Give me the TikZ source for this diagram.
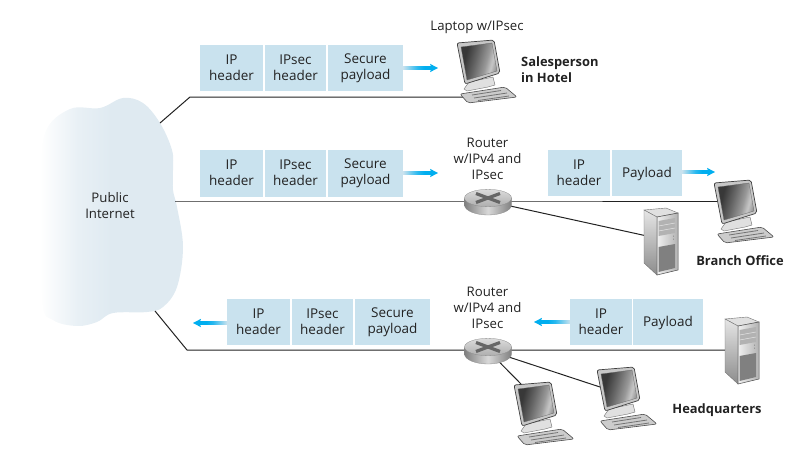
\documentclass[tikz,border=0pt]{standalone}
\usepackage{fontspec}
\setmainfont{Open Sans}
\usetikzlibrary{shapes.geometric}
\definecolor{boxblue}{HTML}{C9E2EE}
\definecolor{cloudblue}{HTML}{DFEAF1}
\definecolor{wire}{HTML}{222222}
\definecolor{flowcyan}{HTML}{00AEEF}
\definecolor{inkgrey}{HTML}{222222}
\pgfdeclarehorizontalshading{cloudfade}{100bp}{
  color(0bp)=(white);
  color(25bp)=(white);
  color(38bp)=(cloudblue!70!white);
  color(50bp)=(cloudblue);
  color(100bp)=(cloudblue)}
\pgfdeclarehorizontalshading{screenfade}{100bp}{
  color(0bp)=(black!78);
  color(30bp)=(black!78);
  color(45bp)=(black!60);
  color(60bp)=(black!40);
  color(68bp)=(black!22);
  color(75bp)=(black!40);
  color(100bp)=(black!45)}
\pgfdeclarehorizontalshading{flowfade}{100bp}{
  color(0bp)=(boxblue);
  color(25bp)=(boxblue);
  color(50bp)=(flowcyan!80!boxblue);
  color(62bp)=(flowcyan);
  color(100bp)=(flowcyan)}
\pgfdeclarehorizontalshading{flowfadeback}{100bp}{
  color(0bp)=(flowcyan);
  color(38bp)=(flowcyan);
  color(50bp)=(flowcyan!80!boxblue);
  color(75bp)=(boxblue);
  color(100bp)=(boxblue)}
\tikzset{
  hdr/.style={fill=boxblue,inner sep=0pt,align=center,text=inkgrey,font=\fontsize{13.5}{16}\selectfont,
    execute at begin node={\rule{0pt}{12pt}},execute at end node={\rule[-1.6pt]{0pt}{1.6pt}}},
  lbl/.style={inner sep=0pt,align=center,text=inkgrey,font=\fontsize{13.2}{16}\selectfont,
    execute at begin node={\rule{0pt}{12pt}},execute at end node={\rule[-1.6pt]{0pt}{1.6pt}}},
  boldlbl/.style={inner sep=0pt,align=left,text=inkgrey,font=\bfseries\fontsize{12.9}{16}\selectfont},
  wireline/.style={draw=wire,line width=1pt},
  % arrows starting at the pic origin, running along +x or -x for the given length
  pics/flowarrow/.style={code={
    \shade[shading=flowfade] (0,-1.7) rectangle ({#1-6},1.7);
    \fill[flowcyan] ({#1-8},-4.2)--(#1,0)--({#1-8},4.2)--({#1-6.5},0)--cycle;
  }},
  pics/flowarrowback/.style={code={
    \shade[shading=flowfadeback] ({6-#1},-1.7) rectangle (0,1.7);
    \fill[flowcyan] ({8-#1},-4.2)--(-#1,0)--({8-#1},4.2)--({6.5-#1},0)--cycle;
  }},
  pics/pcicon/.style={code={
    % keyboard
    \fill[draw=black!70,line width=.6pt,fill=black!20,rounded corners=2pt]
      (3,51)--(48,44)--(60,54)--(11,60)--cycle;
    \draw[black!55,line width=.8pt] (15,52)--(44,47.5) (17,55)--(50,50) (21,57.5)--(52,53);
    % stand
    \fill[draw=black!55,line width=.4pt,fill=black!12] (12,39)--(36,34)--(38,42)--(31,44)--(10,48)--(7,46)--cycle;
    % monitor case
    \fill[draw=black!75,line width=.7pt,fill=black!22,rounded corners=2pt]
      (0,0)--(37,-3)--(43,30)--(8,41)--cycle;
    % screen
    \shade[shading=screenfade,shading angle=-15,draw=black!60,line width=.3pt]
      (4,4)--(35,0)--(40,28)--(10,37)--cycle;
  }},
  pics/servericon/.style={code={
    \fill[draw=black!55,line width=.4pt,fill=black!12] (0,0)--(22,-2)--(34,3)--(13,7)--cycle;
    \shade[draw=black!55,line width=.4pt,top color=black!10,bottom color=black!45] (0,0)--(13,7)--(13,65)--(0,53)--cycle;
    \shade[draw=black!70,line width=.5pt,left color=black!6,right color=black!30] (13,7)--(34,3)--(34,60)--(13,65)--cycle;
    \fill[black!30] (14.5,11)--(31,8)--(31,23)--(14.5,26)--cycle;
    \draw[black!10,line width=.5pt] (14.5,16)--(31,13) (14.5,21)--(31,18);
    \fill[black!50] (14.5,37)--(31,34)--(31,58)--(14.5,62)--cycle;
    \fill[black!55] (29.5,26) circle (.5) (29.5,29) circle (.5);
  }},
  pics/routericon/.style={code={
    \shade[left color=black!50,right color=black!50,middle color=black!15,draw=black!45,line width=.3pt]
      (-23.5,0)--(-23.5,7) .. controls (-23.5,12.5) and (-13,17) .. (0,17)
      .. controls (13,17) and (23.5,12.5) .. (23.5,7)--(23.5,0)--cycle;
    \shade[top color=black!14,bottom color=black!32,draw=black!45,line width=.3pt]
      (0,0) ellipse[x radius=23.5,y radius=8.7];
    \draw[black!60,line width=3.2pt] (-12,-4.5)--(12,4.5) (-12,4.5)--(12,-4.5);
  }}
}
\begin{document}
\begin{tikzpicture}[x=1pt,y=-1pt]
\useasboundingbox (0,0) rectangle (807,456);

% internet cloud
\shade[shading=cloudfade]
  plot[smooth cycle,tension=.6] coordinates {
    (70,109) (100,108) (123,98) (143,103) (160,123) (172,150) (173,170)
    (173,190) (177,207) (183,247) (177,287) (163,307) (147,312) (113,313)
    (97,322) (77,326) (53,320) (42,300) (41,190) (45,133)};
\node[lbl] (cloudtext) at (110,206) {Public\\Internet};

% attachment points of the wires
\coordinate (cloudA) at (160,123);
\coordinate (bendA) at (190,97);
\coordinate (laptop) at (470,97);
\coordinate (cloudB) at (175,201);
\coordinate (routerB) at (487.5,201);
\coordinate (pcB) at (720,201);
\coordinate (serverB) at (647,236);
\coordinate (cloudC) at (155,311);
\coordinate (bendC) at (187,350);
\coordinate (routerC) at (487.5,350);
\coordinate (serverC) at (728,350);
\coordinate (pcC) at (600,387);
\coordinate (pcD) at (522,385);

% wires
\draw[wireline] (cloudA)--(bendA)--(laptop);
\draw[wireline] (cloudB)--(routerB)--(pcB);
\draw[wireline] (routerB)--(serverB);
\draw[wireline] (cloudC)--(bendC)--(routerC)--(serverC);
\draw[wireline] (routerC)--(pcC);
\draw[wireline] (routerC)--(pcD);

% equipment
\pic at (457,43) {pcicon};
\pic at (714,183) {pcicon};
\pic at (597,370) {pcicon};
\pic at (514,385) {pcicon};
\pic at (644,210) {servericon};
\pic at (725,319) {servericon};
\pic at (488,198) {routericon};
\pic at (488,347) {routericon};

% packet, salesperson link
\node[hdr,minimum width=63pt,minimum height=46pt] (a1) at (231.5,68) {IP\\header};
\node[hdr,minimum width=61pt,minimum height=46pt] (a2) at (295.5,68) {IPsec\\header};
\node[hdr,minimum width=75pt,minimum height=46pt] (a3) at (365.5,68) {Secure\\payload};
\pic at (403,68) {flowarrow=35};

% packets, branch office link
\node[hdr,minimum width=63pt,minimum height=47pt] (b1) at (231.5,173.5) {IP\\header};
\node[hdr,minimum width=61pt,minimum height=47pt] (b2) at (295.5,173.5) {IPsec\\header};
\node[hdr,minimum width=75pt,minimum height=47pt] (b3) at (365.5,173.5) {Secure\\payload};
\pic at (403,173) {flowarrow=35};
\node[hdr,minimum width=62pt,minimum height=46pt] (b5) at (579,173) {IP\\header};
\node[hdr,minimum width=70pt,minimum height=46pt] (b6) at (647,173) {Payload};
\pic at (682,172) {flowarrow=33};

% packets, headquarters link
\node[hdr,minimum width=63pt,minimum height=46pt] (c1) at (258.5,322) {IP\\header};
\node[hdr,minimum width=61pt,minimum height=46pt] (c2) at (322.5,322) {IPsec\\header};
\node[hdr,minimum width=75pt,minimum height=46pt] (c3) at (392.5,322) {Secure\\payload};
\pic at (227,323) {flowarrowback=34};
\node[hdr,minimum width=62pt,minimum height=46pt] (c5) at (601,322) {IP\\header};
\node[hdr,minimum width=70pt,minimum height=46pt] (c6) at (668,322) {Payload};
\pic at (570,322) {flowarrowback=36};

% captions
\node[lbl] (t1) at (477,26) {Laptop w/IPsec};
\node[boldlbl,anchor=west] (t2) at (521,70) {Salesperson\\in Hotel};
\node[lbl] (t3) at (487.5,160) {Router\\w/IPv4 and\\IPsec};
\node[lbl] (t4) at (487.5,309) {Router\\w/IPv4 and\\IPsec};
\node[boldlbl] (t5) at (740,261) {Branch Office};
\node[boldlbl] (t6) at (717,410) {Headquarters};
\end{tikzpicture}
\end{document}
